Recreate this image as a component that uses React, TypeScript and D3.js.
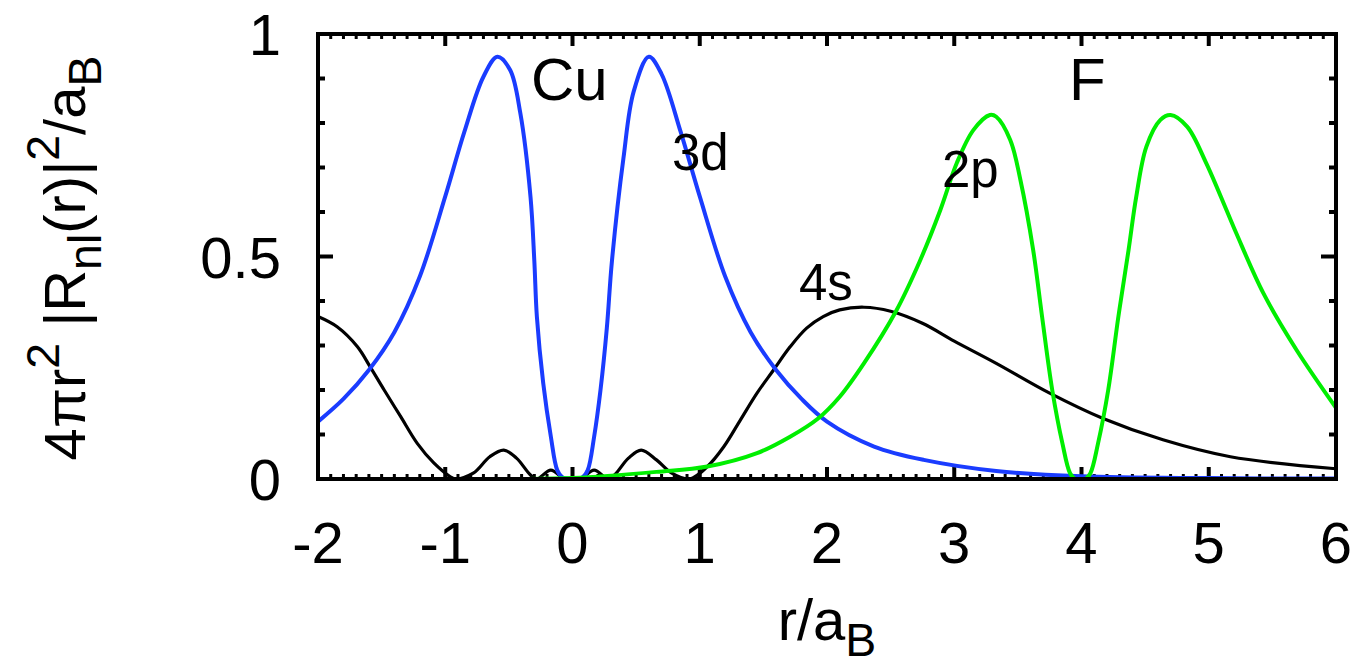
import React, { useRef, useEffect } from 'react';
import * as d3 from 'd3';

// Cu 3d radial density (blue), Cu at r = 0
const cu3d: [number, number][] = [
  [-2.0, 0.129], [-1.8, 0.18], [-1.6, 0.245], [-1.4, 0.33], [-1.2, 0.455],
  [-1.0, 0.635], [-0.85, 0.78], [-0.7, 0.904], [-0.59, 0.949],
  [-0.49, 0.919], [-0.41, 0.822], [-0.33, 0.634], [-0.3, 0.49], [-0.28, 0.365],
  [-0.23, 0.215], [-0.17, 0.095], [-0.12, 0.02], [-0.08, 0.004], [0, 0],
  [0.08, 0.004], [0.12, 0.02], [0.17, 0.095], [0.22, 0.2], [0.27, 0.34],
  [0.31, 0.49], [0.4, 0.72], [0.48, 0.87], [0.6, 0.949], [0.7, 0.91],
  [0.85, 0.78], [1.0, 0.635], [1.2, 0.455], [1.4, 0.33], [1.6, 0.245],
  [1.8, 0.18], [2.0, 0.129], [2.37, 0.073], [2.76, 0.043], [3.33, 0.018],
  [4.0, 0.006], [5.0, 0.002], [6.0, 0.001],
];

// Cu 4s radial density (black)
const cu4s: [number, number][] = [
  [-2.0, 0.365], [-1.85, 0.342], [-1.69, 0.297], [-1.59, 0.252], [-1.48, 0.2],
  [-1.35, 0.14], [-1.22, 0.08], [-1.09, 0.036], [-0.96, 0.005], [-0.92, 0],
  [-0.78, 0.013], [-0.65, 0.05], [-0.54, 0.065], [-0.44, 0.047], [-0.33, 0.009],
  [-0.28, 0], [-0.17, 0.02], [-0.06, 0], [0.06, 0], [0.17, 0.02], [0.28, 0],
  [0.33, 0.009], [0.44, 0.047], [0.54, 0.065], [0.66, 0.043], [0.78, 0.013],
  [0.92, 0], [1.06, 0.028], [1.19, 0.073], [1.32, 0.133], [1.45, 0.193],
  [1.58, 0.245], [1.71, 0.297], [1.84, 0.339], [1.97, 0.365], [2.1, 0.38],
  [2.29, 0.386], [2.5, 0.377], [2.75, 0.35], [3.0, 0.31], [3.33, 0.26],
  [3.75, 0.193], [4.17, 0.136], [4.64, 0.088], [5.17, 0.05], [6.0, 0.023],
];

// F 2p radial density (green), F at r = 4
const f2p: [number, number][] = [
  [-2.0, 0], [-0.5, 0], [0.0, 0.002], [0.66, 0.016], [1.06, 0.028],
  [1.45, 0.058], [1.71, 0.095], [1.93, 0.136], [2.1, 0.185], [2.29, 0.26],
  [2.54, 0.376], [2.73, 0.49], [2.89, 0.604], [3.02, 0.71], [3.15, 0.784],
  [3.28, 0.818], [3.33, 0.814], [3.44, 0.762], [3.52, 0.672], [3.62, 0.515],
  [3.69, 0.365], [3.77, 0.2], [3.85, 0.08], [3.91, 0.013], [3.95, 0],
  [4.03, 0], [4.07, 0.013], [4.13, 0.08], [4.21, 0.2], [4.29, 0.365],
  [4.37, 0.515], [4.43, 0.634], [4.51, 0.747], [4.62, 0.807], [4.7, 0.818],
  [4.83, 0.792], [4.98, 0.71], [5.14, 0.604], [5.22, 0.55], [5.43, 0.417],
  [5.69, 0.29], [6.0, 0.16],
];

const xTicks = [-2, -1, 0, 1, 2, 3, 4, 5, 6];
const yTicks = [0, 0.5, 1];
const yTickLabels = ['0', '0.5', '1'];

const FONT = '"Liberation Sans", Arial, Helvetica, sans-serif';

type Part = [string, 'n' | 'sup' | 'sub'];

// write a string with gnuplot-like sub/superscripts into a <text>
function richText(sel: any, parts: Part[], size: number) {
  const small = size * 0.8;
  let shift = 0;
  parts.forEach(([s, kind]) => {
    const target = kind === 'sup' ? -size * 0.45 : kind === 'sub' ? size * 0.28 : 0;
    sel.append('tspan')
      .attr('dy', target - shift)
      .attr('font-size', kind === 'n' ? size : small)
      .text(s);
    shift = target;
  });
}

const App = () => {
  const svgRef = useRef<SVGSVGElement>(null);

  useEffect(() => {
    const svg = d3.select(svgRef.current);
    svg.selectAll('*').remove();

    const left = 318, right = 1336, top = 34, bottom = 479;
    const x = d3.scaleLinear().domain([-2, 6]).range([left, right]);
    const y = d3.scaleLinear().domain([0, 1]).range([bottom, top]);

    svg.append('defs').append('clipPath').attr('id', 'plot-clip')
      .append('rect')
      .attr('x', left).attr('y', top)
      .attr('width', right - left).attr('height', bottom - top);

    const g = svg.append('g');

    // minor + major ticks, mirrored on all four sides
    const xMinor = d3.range(-2, 6.001, 0.1);
    const yMinor = d3.range(0, 1.001, 0.1);
    xMinor.forEach(v => {
      const major = Math.abs(v - Math.round(v)) < 1e-6;
      const len = major ? 12 : 5;
      g.append('line').attr('x1', x(v)).attr('x2', x(v))
        .attr('y1', bottom).attr('y2', bottom - len)
        .attr('stroke', '#000').attr('stroke-width', major ? 4 : 3);
      g.append('line').attr('x1', x(v)).attr('x2', x(v))
        .attr('y1', top).attr('y2', top + len)
        .attr('stroke', '#000').attr('stroke-width', major ? 4 : 3);
    });
    yMinor.forEach(v => {
      const major = Math.abs(v * 2 - Math.round(v * 2)) < 1e-6;
      const len = major ? 15 : 7;
      g.append('line').attr('y1', y(v)).attr('y2', y(v))
        .attr('x1', left).attr('x2', left + len)
        .attr('stroke', '#000').attr('stroke-width', 4);
      g.append('line').attr('y1', y(v)).attr('y2', y(v))
        .attr('x1', right).attr('x2', right - len)
        .attr('stroke', '#000').attr('stroke-width', 4);
    });

    // curves
    const line = d3.line<[number, number]>()
      .x(d => x(d[0]))
      .y(d => y(Math.max(0, d[1])))
      .curve(d3.curveCatmullRom.alpha(0.5));

    const series: { data: [number, number][]; color: string; width: number }[] = [
      { data: cu4s, color: '#000000', width: 3.2 },
      { data: cu3d, color: '#1a3cff', width: 4 },
      { data: f2p, color: '#00ee00', width: 4 },
    ];
    series.forEach(s => {
      g.append('path')
        .datum(s.data)
        .attr('clip-path', 'url(#plot-clip)')
        .attr('fill', 'none')
        .attr('stroke', s.color)
        .attr('stroke-width', s.width)
        .attr('stroke-linejoin', 'round')
        .attr('d', line);
    });

    // frame
    g.append('rect')
      .attr('x', left).attr('y', top)
      .attr('width', right - left).attr('height', bottom - top)
      .attr('fill', 'none').attr('stroke', '#000').attr('stroke-width', 4);

    // tick labels
    g.selectAll('.xlab')
      .data(xTicks)
      .enter().append('text')
      .attr('x', d => x(d))
      .attr('y', 563)
      .attr('text-anchor', 'middle')
      .attr('font-family', FONT)
      .attr('font-size', 58)
      .text(d => String(d));

    g.selectAll('.ylab')
      .data(yTicks)
      .enter().append('text')
      .attr('x', 281)
      .attr('y', d => y(d) + 21)
      .attr('text-anchor', 'end')
      .attr('font-family', FONT)
      .attr('font-size', 58)
      .text((d, i) => yTickLabels[i]);

    // in-plot labels
    const notes: [string, number, number, number][] = [
      ['Cu', 531, 100, 60],
      ['F', 1069, 100, 60],
      ['3d', 672, 170, 51],
      ['2p', 942, 187, 51],
      ['4s', 799, 300, 51],
    ];
    notes.forEach(([t, px, py, fs]) => {
      g.append('text')
        .attr('x', px).attr('y', py)
        .attr('font-family', FONT)
        .attr('font-size', fs)
        .text(t);
    });

    // axis titles
    const xt = g.append('text')
      .attr('x', (left + right) / 2)
      .attr('y', 640)
      .attr('text-anchor', 'middle')
      .attr('font-family', FONT);
    richText(xt, [['r/a', 'n'], ['B', 'sub']], 58);

    const yt = g.append('text')
      .attr('transform', 'translate(85,258) rotate(-90)')
      .attr('text-anchor', 'middle')
      .attr('font-family', FONT);
    richText(yt, [
      ['4πr', 'n'], ['2', 'sup'], [' |R', 'n'], ['nl', 'sub'],
      ['(r)|', 'n'], ['2', 'sup'], ['/a', 'n'], ['B', 'sub'],
    ], 58);
  }, []);

  return (
    <svg ref={svgRef} width={1364} height={667}
      style={{ position: 'absolute', left: 0, top: 0, background: '#fff' }} />
  );
};

export default App;
